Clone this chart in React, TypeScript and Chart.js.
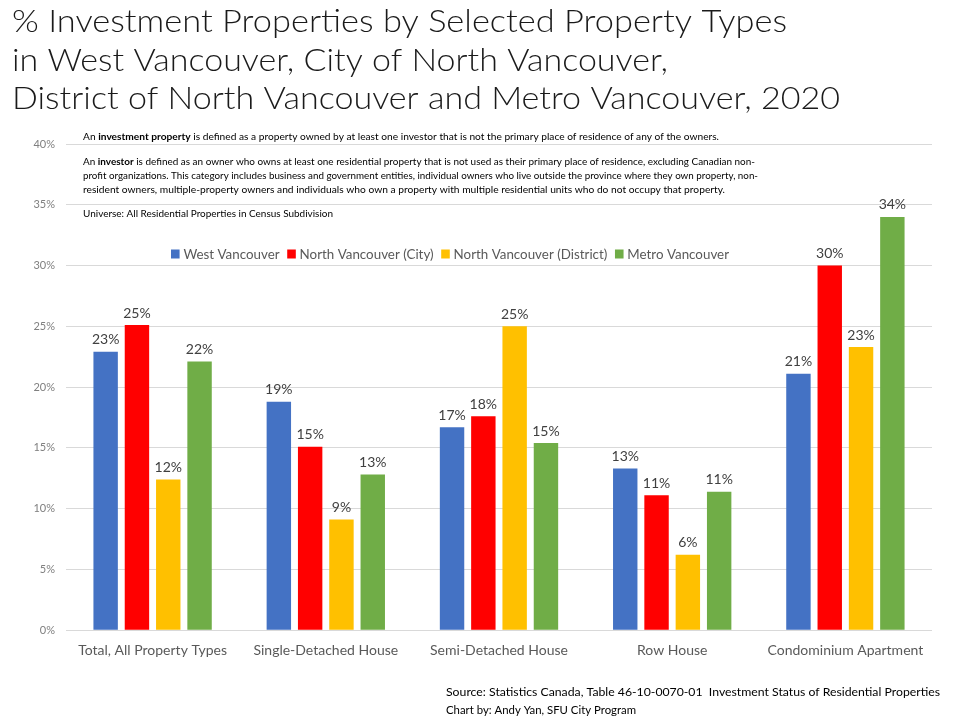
import React, { useEffect, useRef } from "react";
import { Chart, registerables } from "chart.js";

Chart.register(...registerables);

const categories = [
  "Total, All Property Types",
  "Single-Detached House",
  "Semi-Detached House",
  "Row House",
  "Condominium Apartment",
];
const seriesNames = [
  "West Vancouver",
  "North Vancouver (City)",
  "North Vancouver (District)",
  "Metro Vancouver",
];
const westVancouver = [22.9, 18.8, 16.7, 13.3, 21.1];
const northVancouverCity = [25.1, 15.1, 17.6, 11.1, 30.0];
const northVancouverDistrict = [12.4, 9.1, 25.0, 6.2, 23.3];
const metroVancouver = [22.1, 12.8, 15.4, 11.4, 34.0];
const seriesColors = ["#4472C4", "#FF0000", "#FFC000", "#70AD47"];
const yTicks = [0, 5, 10, 15, 20, 25, 30, 35, 40];

const titleLines = [
  "% Investment Properties by Selected Property Types",
  "in West Vancouver, City of North Vancouver,",
  "District of North Vancouver and Metro Vancouver, 2020",
];
const sourceLines = [
  "Source: Statistics Canada, Table 46-10-0070-01  Investment Status of Residential Properties",
  "Chart by: Andy Yan, SFU City Program",
];

type Seg = { t: string; b?: boolean };
const noteLines: { segs: Seg[]; y: number; w: number }[] = [
  {
    segs: [
      { t: "An " },
      { t: "investment property", b: true },
      { t: " is defined as a property owned by at least one investor that is not the primary place of residence of any of the owners." },
    ],
    y: 137,
    w: 636,
  },
  {
    segs: [
      { t: "An " },
      { t: "investor", b: true },
      { t: " is defined as an owner who owns at least one residential property that is not used as their primary place of residence, excluding Canadian non-" },
    ],
    y: 162,
    w: 672,
  },
  {
    segs: [
      { t: "profit organizations. This category includes business and government entities, individual owners who live outside the province where they own property, non-" },
    ],
    y: 176,
    w: 675,
  },
  {
    segs: [
      { t: "resident owners, multiple-property owners and individuals who own a property with multiple residential units who do not occupy that property." },
    ],
    y: 190,
    w: 642,
  },
  { segs: [{ t: "Universe: All Residential Properties in Census Subdivision" }], y: 214, w: 250 },
];

const FONT = "Lato, 'Open Sans', sans-serif";

function drawFit(ctx: CanvasRenderingContext2D, segs: Seg[], x: number, y: number, target: number, size: number, color: string, weight = "normal") {
  ctx.save();
  let total = 0;
  const widths: number[] = [];
  for (const s of segs) {
    ctx.font = `${s.b ? "bold" : weight} ${size}px ${FONT}`;
    const w = ctx.measureText(s.t).width;
    widths.push(w);
    total += w;
  }
  const sx = target / total;
  ctx.translate(x, y);
  ctx.scale(sx, 1);
  ctx.fillStyle = color;
  ctx.textBaseline = "middle";
  ctx.textAlign = "left";
  let off = 0;
  segs.forEach((s, i) => {
    ctx.font = `${s.b ? "bold" : weight} ${size}px ${FONT}`;
    ctx.fillText(s.t, off, 0);
    off += widths[i];
  });
  ctx.restore();
}

const textPlugin = {
  id: "textPlugin",
  afterDatasetsDraw(chart: any) {
    const ctx = chart.ctx as CanvasRenderingContext2D;
    ctx.save();
    ctx.font = `14px ${FONT}`;
    ctx.fillStyle = "#404040";
    ctx.textAlign = "center";
    ctx.textBaseline = "bottom";
    chart.data.datasets.forEach((ds: any, di: number) => {
      const meta = chart.getDatasetMeta(di);
      meta.data.forEach((bar: any, i: number) => {
        ctx.fillText(Math.round(ds.data[i]) + "%", bar.x, bar.y - 5);
      });
    });
    ctx.restore();
  },
  afterDraw(chart: any) {
    const ctx = chart.ctx as CanvasRenderingContext2D;
    // Title
    const titleW = [775, 656, 828];
    const titleY = [22, 61, 99];
    titleLines.forEach((l, i) => drawFit(ctx, [{ t: l }], 12, titleY[i], titleW[i], 32, "#1a1a1a", "300"));
    // Notes
    noteLines.forEach((n) => drawFit(ctx, n.segs, 83, n.y, n.w, 9, "#000000"));
    // Legend
    ctx.save();
    ctx.font = `14px ${FONT}`;
    ctx.textBaseline = "middle";
    const sq = 9, gap1 = 4, gap2 = 8;
    const widths = seriesNames.map((s) => ctx.measureText(s).width);
    const total = widths.reduce((a, b) => a + b, 0) + seriesNames.length * (sq + gap1) + (seriesNames.length - 1) * gap2;
    const scale = 558 / total;
    ctx.translate(171, 254);
    ctx.scale(scale, 1);
    let x = 0;
    seriesNames.forEach((s, i) => {
      ctx.fillStyle = seriesColors[i];
      ctx.fillRect(x, -sq / 2, sq, sq);
      x += sq + gap1;
      ctx.fillStyle = "#595959";
      ctx.fillText(s, x, 0);
      x += widths[i] + gap2;
    });
    ctx.restore();
    // Source
    drawFit(ctx, [{ t: sourceLines[0] }], 446, 692, 494, 12, "#000000");
    drawFit(ctx, [{ t: sourceLines[1] }], 446, 710, 190, 12, "#000000");
  },
};

export default function App() {
  const ref = useRef<HTMLCanvasElement>(null);
  useEffect(() => {
    if (!ref.current) return;
    const datasets = [westVancouver, northVancouverCity, northVancouverDistrict, metroVancouver].map((d, i) => ({
      label: seriesNames[i],
      data: d,
      backgroundColor: seriesColors[i],
      categoryPercentage: 0.723,
      barPercentage: 0.78,
    }));
    const chart = new Chart(ref.current, {
      type: "bar",
      data: { labels: categories, datasets },
      options: {
        animation: false,
        responsive: false,
        layout: { padding: { top: 144, left: 10, right: 28, bottom: 49 } },
        plugins: { legend: { display: false }, tooltip: { enabled: false }, title: { display: false } },
        scales: {
          x: {
            grid: { display: false, drawTicks: false },
            border: { display: false },
            ticks: { font: { family: FONT, size: 14 }, color: "#595959", padding: 12, maxRotation: 0, autoSkip: false },
          },
          y: {
            min: 0,
            max: 40,
            afterFit: (s: any) => { s.width = 56; },
            afterBuildTicks: (s: any) => { s.ticks = yTicks.map((v) => ({ value: v })); },
            grid: { color: "#d9d9d9", drawTicks: false, lineWidth: 1 },
            border: { display: false },
            ticks: { font: { family: FONT, size: 11 }, color: "#7f7f7f", padding: 11, callback: (v: any) => v + "%" },
          },
        },
      },
      plugins: [textPlugin],
    });
    return () => chart.destroy();
  }, []);
  return (
    <div style={{ position: "absolute", top: 0, left: 0, width: 960, height: 720, background: "#fff" }}>
      <canvas ref={ref} width={960} height={720} style={{ width: 960, height: 720 }} />
    </div>
  );
}
